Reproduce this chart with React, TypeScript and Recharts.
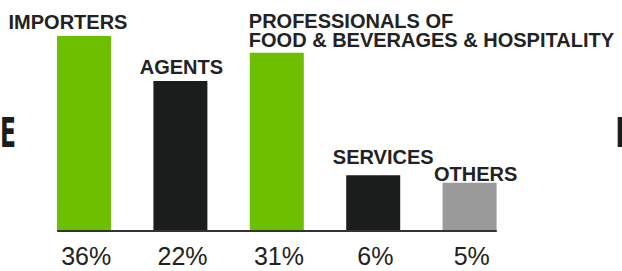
import { BarChart, Bar, XAxis, YAxis, Cell, LabelList, ReferenceLine } from 'recharts';

// categories (top labels, may wrap on two lines)
const categoryLines: string[][] = [
    ['IMPORTERS'],
    ['AGENTS'],
    ['PROFESSIONALS OF', 'FOOD & BEVERAGES & HOSPITALITY'],
    ['SERVICES'],
    ['OTHERS'],
];

// percentages printed under each bar
const shares = ['36%', '22%', '31%', '6%', '5%'];

// bar heights as drawn in the picture (not proportional to the printed shares)
const barHeights = [36, 27.7, 32.9, 10.3, 8.9];

const barColors = ['#6cc000', '#1b1c1c', '#6cc000', '#1b1c1c', '#9a9a9a'];

const FONT = 'Liberation Sans, Arial, Helvetica, sans-serif';
const TEXT_COLOR = '#222222';
const BAR_SIZE = 54;

// where each name sits relative to its bar
const LABEL_PLACEMENT = [
    { anchor: 'middle', dx: -16, dy: -7 },
    { anchor: 'middle', dx: 1, dy: -7 },
    { anchor: 'start', dx: -1, dy: -6 },
    { anchor: 'middle', dx: 10, dy: -11 },
    { anchor: 'middle', dx: 6, dy: -2 },
];

const data = shares.map((share, i) => ({
    share,
    value: barHeights[i],
    index: i,
}));

function TopLabel(props: any) {
    const { x, y, width, index } = props;
    const place = LABEL_PLACEMENT[index];
    const lines = categoryLines[index];
    const bx = Number(x);
    const by = Number(y);
    const tx = place.anchor === 'start' ? bx + place.dx : bx + Number(width) / 2 + place.dx;
    const lineGap = 19;
    return (
        <text
            x={tx}
            y={by + place.dy - (lines.length - 1) * lineGap}
            textAnchor={place.anchor}
            fontFamily={FONT}
            fontSize={20}
            fontWeight={700}
            fill={TEXT_COLOR}
        >
            {lines.map((line, i) => (
                <tspan key={i} x={tx} dy={i === 0 ? 0 : lineGap}>
                    {line}
                </tspan>
            ))}
        </text>
    );
}

// baseline only runs from the first bar's left edge to the last bar's right edge
function Baseline(props: any) {
    const { x1, x2, y1 } = props;
    const band = (x2 - x1) / data.length;
    const inset = (band - BAR_SIZE) / 2;
    return <line x1={x1 + inset} x2={x2 - inset} y1={y1} y2={y1} stroke="#333333" strokeWidth={2} />;
}

export default function App() {
    return (
        <div style={{ position: 'absolute', left: 0, top: 0, width: 622, height: 271, background: '#fff', overflow: 'hidden' }}>
            <BarChart
                width={622}
                height={271}
                data={data}
                margin={{ top: 36, right: 104, bottom: 10, left: 36 }}
            >
                <XAxis
                    dataKey="share"
                    axisLine={false}
                    tickLine={false}
                    height={30}
                    tickMargin={10}
                    interval={0}
                    tick={{ fill: TEXT_COLOR, fontSize: 25, fontFamily: FONT, dx: 2 }}
                />
                <YAxis hide domain={[0, 36]} />
                <Bar dataKey="value" barSize={BAR_SIZE} isAnimationActive={false}>
                    {data.map((d) => (
                        <Cell key={d.share} fill={barColors[d.index]} />
                    ))}
                    <LabelList dataKey="value" content={TopLabel} />
                </Bar>
                <ReferenceLine y={0} shape={Baseline} />
            </BarChart>
            <svg
                width={622}
                height={271}
                style={{ position: 'absolute', left: 0, top: 0, pointerEvents: 'none' }}
            >
                <text x={0} y={147} fontFamily="DejaVu Sans" fontWeight={700} fontSize={40} fill="#1b1c1c" textLength={16} lengthAdjust="spacingAndGlyphs">
                    E
                </text>
                <text x={614} y={147} fontFamily="DejaVu Sans" fontWeight={700} fontSize={40} fill="#1b1c1c">
                    I
                </text>
            </svg>
        </div>
    );
}
